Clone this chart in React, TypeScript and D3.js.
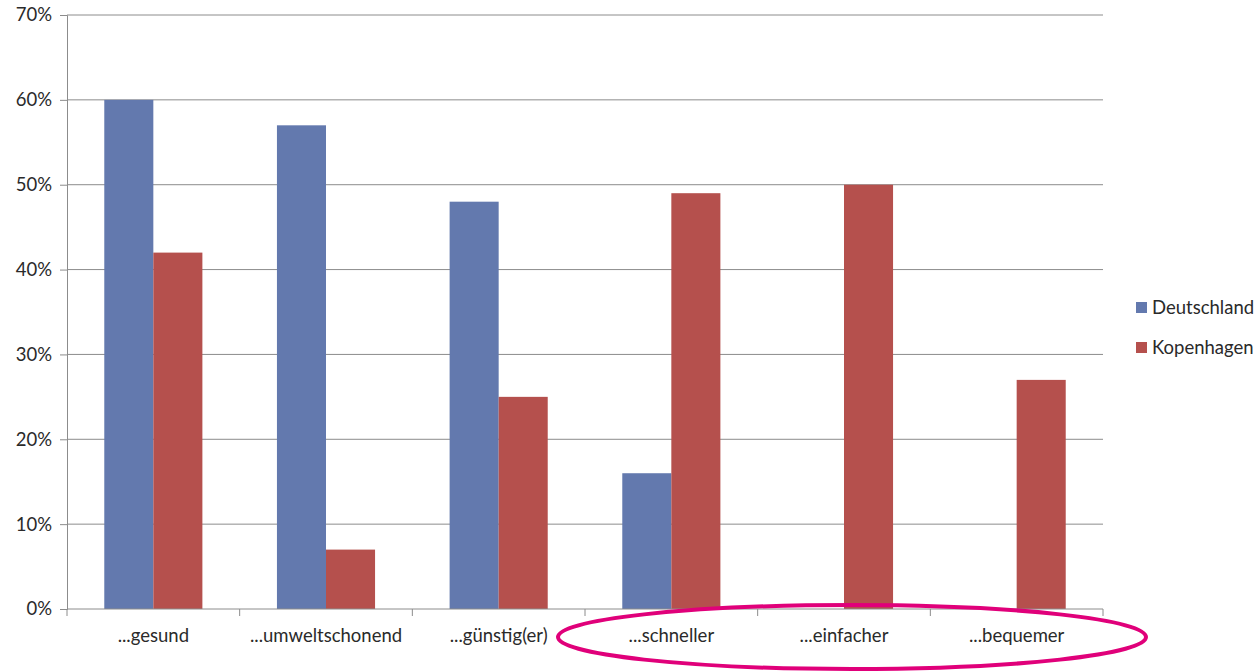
import React, { useEffect, useRef } from 'react';
import * as d3 from 'd3';

// Chart values
const categories = ['...gesund', '...umweltschonend', '...günstig(er)', '...schneller', '...einfacher', '...bequemer'];
const seriesNames = ['Deutschland', 'Kopenhagen'];
const deutschland = [60, 57, 48, 16, 0, 0];
const kopenhagen = [42, 7, 25, 49, 50, 27];
const yTicks = [0, 10, 20, 30, 40, 50, 60, 70];

const colors = ['#6379AE', '#B5504D'];

const App = () => {
    const svgRef = useRef<SVGSVGElement | null>(null);

    useEffect(() => {
        const svg = d3.select(svgRef.current);
        svg.selectAll('*').remove();

        const width = 1259;
        const height = 671;
        const margin = { top: 15, right: 156, bottom: 62, left: 67 };
        const chartWidth = width - margin.left - margin.right;
        const chartHeight = height - margin.top - margin.bottom;
        const font = 'Lato, "Noto Sans", sans-serif';
        const fontSize = '18.5px';

        const g = svg.append('g').attr('transform', `translate(${margin.left},${margin.top})`);

        const x = d3.scaleBand().domain(categories).range([0, chartWidth]).paddingInner(0).paddingOuter(0);
        const inner = d3.scaleBand().domain(seriesNames).range([0, x.bandwidth()]).paddingInner(0).paddingOuter(0.76);
        const y = d3.scaleLinear().domain([0, 70]).range([chartHeight, 0]);

        // Gridlines
        g.selectAll('.grid')
            .data(yTicks.filter(t => t > 0))
            .enter()
            .append('line')
            .attr('x1', 0)
            .attr('x2', chartWidth)
            .attr('y1', d => y(d))
            .attr('y2', d => y(d))
            .attr('stroke', '#8c8c8c')
            .attr('stroke-width', 1);

        // Bars
        const data = categories.flatMap((c, i) => [
            { cat: c, s: seriesNames[0], v: deutschland[i], color: colors[0] },
            { cat: c, s: seriesNames[1], v: kopenhagen[i], color: colors[1] },
        ]);
        g.selectAll('.bar')
            .data(data.filter(d => d.v > 0))
            .enter()
            .append('rect')
            .attr('x', d => (x(d.cat) as number) + (inner(d.s) as number))
            .attr('y', d => y(d.v))
            .attr('width', inner.bandwidth())
            .attr('height', d => chartHeight - y(d.v))
            .attr('fill', d => d.color);

        // Y axis
        const yAxis = d3.axisLeft(y).tickValues(yTicks).tickSize(7).tickPadding(8).tickFormat(d => `${d}%`);
        const ya = g.append('g').call(yAxis);
        ya.select('.domain').attr('stroke', '#8c8c8c');
        ya.selectAll('.tick line').attr('stroke', '#8c8c8c');
        ya.selectAll('.tick text')
            .attr('fill', '#2a2a2a')
            .style('font-family', font)
            .style('font-size', fontSize);

        // X axis with ticks at category boundaries
        const xa = g.append('g').attr('transform', `translate(0,${chartHeight})`);
        xa.append('line').attr('x1', 0).attr('x2', chartWidth).attr('stroke', '#8c8c8c');
        const bounds = [...categories.map(c => x(c) as number), chartWidth];
        xa.selectAll('.xt')
            .data(bounds)
            .enter()
            .append('line')
            .attr('x1', d => d)
            .attr('x2', d => d)
            .attr('y1', 0)
            .attr('y2', 7)
            .attr('stroke', '#8c8c8c');
        xa.selectAll('.xl')
            .data(categories)
            .enter()
            .append('text')
            .attr('x', d => (x(d) as number) + x.bandwidth() / 2)
            .attr('y', 33)
            .attr('text-anchor', 'middle')
            .attr('fill', '#2a2a2a')
            .style('font-family', font)
            .style('font-size', fontSize)
            .text(d => d);

        // Legend
        const legend = svg.append('g').attr('transform', 'translate(1136,300)');
        seriesNames.forEach((s, i) => {
            legend.append('rect')
                .attr('x', 0)
                .attr('y', i * 40 + 2)
                .attr('width', 11)
                .attr('height', 11)
                .attr('fill', colors[i]);
            legend.append('text')
                .attr('x', 16)
                .attr('y', i * 40 + 14)
                .attr('fill', '#2a2a2a')
                .style('font-family', font)
                .style('font-size', fontSize)
                .text(s);
        });

        // Highlight ellipse
        svg.append('ellipse')
            .attr('cx', 852)
            .attr('cy', 637)
            .attr('rx', 294)
            .attr('ry', 32)
            .attr('fill', 'none')
            .attr('stroke', '#E0007A')
            .attr('stroke-width', 4);
    }, []);

    return (
        <svg ref={svgRef} width={1259} height={671} style={{ position: 'absolute', left: 0, top: 0 }}></svg>
    );
};

export default App;
